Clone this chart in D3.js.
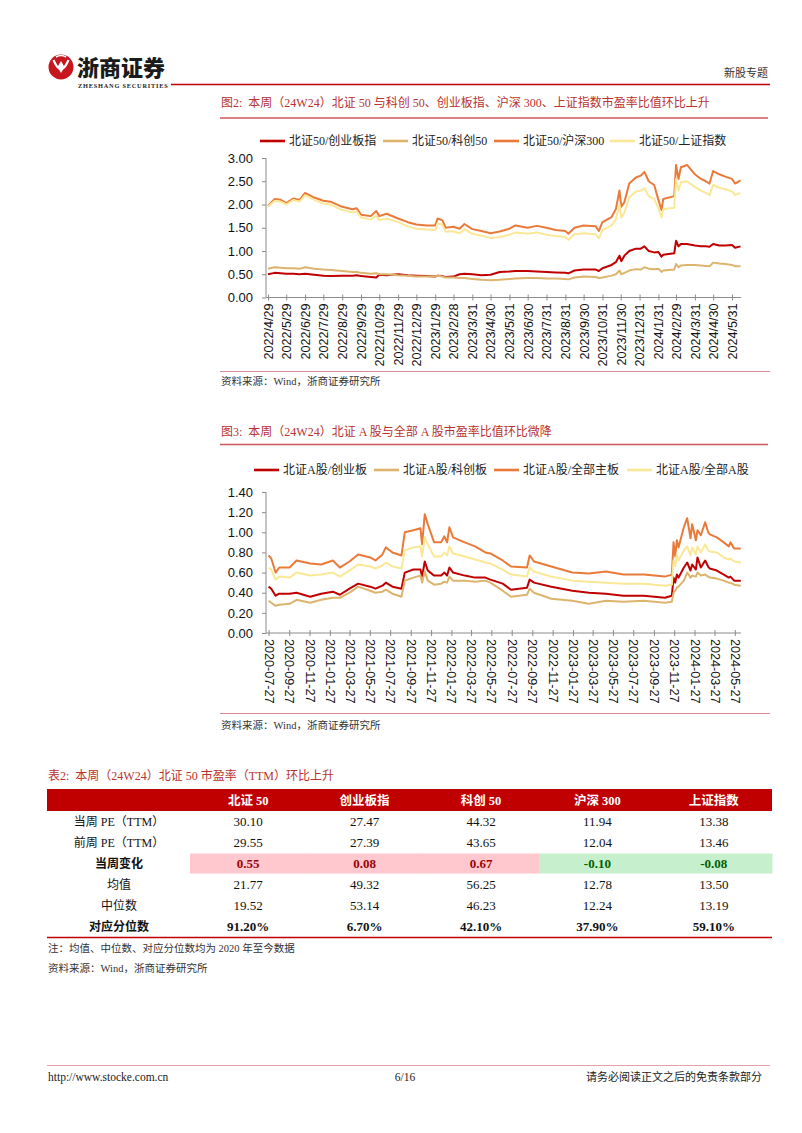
<!DOCTYPE html>
<html><head><meta charset="utf-8">
<script src="https://cdn.jsdelivr.net/npm/d3@7"></script>
<style>body{margin:0;background:#fff}svg{display:block}</style>
</head><body>
<svg id="page" width="802" height="1133"></svg>
<script>
// ---------- Figure 2 data ----------
const fig2Title = "图2:  本周（24W24）北证 50 与科创 50、创业板指、沪深 300、上证指数市盈率比值环比上升";
const fig2Legend = ["北证50/创业板指","北证50/科创50","北证50/沪深300","北证50/上证指数"];
const fig2Dates = ["2022-04-29","2022-05-10","2022-05-20","2022-05-29","2022-06-10","2022-06-20","2022-06-29","2022-07-14","2022-07-29","2022-08-10","2022-08-29","2022-09-15","2022-09-22","2022-09-29","2022-10-15","2022-10-24","2022-10-29","2022-11-10","2022-11-29","2022-12-15","2022-12-29","2023-01-15","2023-01-29","2023-02-02","2023-02-10","2023-02-15","2023-02-28","2023-03-10","2023-03-18","2023-03-31","2023-04-15","2023-04-30","2023-05-15","2023-05-31","2023-06-10","2023-06-30","2023-07-15","2023-07-31","2023-08-15","2023-08-31","2023-09-05","2023-09-15","2023-09-30","2023-10-20","2023-10-25","2023-10-31","2023-11-15","2023-11-22","2023-11-28","2023-12-01","2023-12-06","2023-12-14","2023-12-25","2024-01-02","2024-01-08","2024-01-15","2024-01-24","2024-01-31","2024-02-05","2024-02-08","2024-02-26","2024-02-29","2024-03-04","2024-03-08","2024-03-18","2024-03-31","2024-04-10","2024-04-18","2024-04-24","2024-04-30","2024-05-10","2024-05-20","2024-05-31","2024-06-05","2024-06-14"];
const fig2BzCyb = [0.50,0.53,0.52,0.51,0.51,0.50,0.51,0.49,0.47,0.46,0.47,0.47,0.48,0.46,0.44,0.43,0.49,0.48,0.50,0.48,0.47,0.46,0.45,0.47,0.46,0.44,0.45,0.50,0.51,0.50,0.48,0.49,0.55,0.56,0.57,0.57,0.56,0.55,0.54,0.53,0.52,0.58,0.60,0.60,0.57,0.63,0.70,0.76,0.90,0.78,0.90,1.00,1.05,1.05,1.10,1.00,0.97,0.98,0.88,0.92,0.95,1.22,1.10,1.15,1.15,1.12,1.10,1.10,1.09,1.15,1.12,1.12,1.13,1.07,1.10];
const fig2BzKc50 = [0.62,0.65,0.64,0.63,0.63,0.62,0.65,0.62,0.60,0.59,0.57,0.55,0.55,0.53,0.51,0.52,0.50,0.50,0.48,0.47,0.45,0.45,0.45,0.47,0.45,0.43,0.43,0.42,0.42,0.40,0.38,0.37,0.38,0.40,0.41,0.42,0.42,0.41,0.41,0.40,0.39,0.43,0.45,0.44,0.42,0.43,0.47,0.50,0.58,0.50,0.53,0.58,0.61,0.60,0.65,0.62,0.61,0.62,0.55,0.58,0.60,0.72,0.65,0.69,0.70,0.70,0.69,0.68,0.67,0.75,0.73,0.72,0.70,0.67,0.67];
const fig2BzHs300 = [1.97,2.12,2.10,2.03,2.13,2.10,2.25,2.15,2.08,2.06,1.95,1.90,1.92,1.78,1.75,1.86,1.75,1.80,1.70,1.62,1.57,1.55,1.55,1.70,1.66,1.50,1.52,1.48,1.58,1.47,1.43,1.38,1.42,1.48,1.55,1.50,1.54,1.50,1.45,1.43,1.37,1.50,1.55,1.53,1.43,1.62,1.73,1.90,2.30,1.95,2.05,2.45,2.58,2.62,2.70,2.50,2.42,2.10,1.88,2.12,2.18,2.85,2.55,2.80,2.85,2.65,2.55,2.50,2.45,2.72,2.65,2.60,2.55,2.45,2.52];
const fig2BzSh = [1.95,2.08,2.06,2.00,2.10,2.06,2.20,2.10,2.02,2.00,1.88,1.83,1.85,1.72,1.68,1.76,1.66,1.70,1.62,1.53,1.48,1.46,1.45,1.60,1.56,1.42,1.42,1.38,1.47,1.37,1.33,1.28,1.30,1.35,1.40,1.37,1.40,1.35,1.32,1.30,1.24,1.36,1.38,1.36,1.27,1.45,1.55,1.68,2.00,1.72,1.82,2.15,2.28,2.30,2.35,2.18,2.12,1.92,1.72,1.90,1.93,2.55,2.30,2.48,2.50,2.38,2.30,2.25,2.20,2.42,2.36,2.33,2.28,2.20,2.25];
const fig2XTicks = ["2022/4/29","2022/5/29","2022/6/29","2022/7/29","2022/8/29","2022/9/29","2022/10/29","2022/11/29","2022/12/29","2023/1/29","2023/2/28","2023/3/31","2023/4/30","2023/5/31","2023/6/30","2023/7/31","2023/8/31","2023/9/30","2023/10/31","2023/11/30","2023/12/31","2024/1/31","2024/2/29","2024/3/31","2024/4/30","2024/5/31"];
const fig2YTicks = [0,0.5,1,1.5,2,2.5,3];

// ---------- Figure 3 data ----------
const fig3Title = "图3:  本周（24W24）北证 A 股与全部 A 股市盈率比值环比微降";
const fig3Legend = ["北证A股/创业板","北证A股/科创板","北证A股/全部主板","北证A股/全部A股"];
const fig3Dates = ["2020-07-27","2020-08-04","2020-08-17","2020-08-28","2020-09-28","2020-10-19","2020-11-29","2021-01-01","2021-02-05","2021-02-26","2021-03-27","2021-04-22","2021-05-28","2021-06-13","2021-07-04","2021-07-14","2021-08-03","2021-08-30","2021-09-09","2021-10-05","2021-10-26","2021-10-31","2021-11-08","2021-11-17","2021-12-06","2021-12-27","2022-01-06","2022-01-14","2022-01-21","2022-02-01","2022-03-08","2022-04-08","2022-05-09","2022-05-24","2022-06-30","2022-07-25","2022-09-11","2022-09-19","2022-10-02","2022-11-23","2023-01-25","2023-03-16","2023-05-06","2023-06-27","2023-08-28","2023-10-30","2023-11-20","2023-11-25","2023-11-30","2023-12-05","2023-12-10","2023-12-26","2024-01-05","2024-01-15","2024-01-20","2024-01-31","2024-02-05","2024-02-15","2024-02-28","2024-03-08","2024-03-13","2024-04-03","2024-04-24","2024-05-09","2024-05-14","2024-05-25","2024-06-14"];
const fig3Cyb = [0.46,0.44,0.37,0.39,0.39,0.40,0.36,0.39,0.41,0.38,0.44,0.49,0.46,0.44,0.47,0.50,0.46,0.44,0.60,0.63,0.63,0.56,0.71,0.62,0.57,0.57,0.60,0.57,0.65,0.60,0.57,0.55,0.55,0.53,0.49,0.43,0.45,0.53,0.50,0.46,0.42,0.40,0.39,0.37,0.37,0.35,0.37,0.55,0.50,0.58,0.55,0.65,0.70,0.62,0.68,0.63,0.75,0.65,0.72,0.66,0.64,0.62,0.58,0.55,0.56,0.52,0.52];
const fig3Kcb = [0.32,0.30,0.27,0.28,0.29,0.33,0.30,0.33,0.35,0.35,0.40,0.46,0.42,0.40,0.41,0.43,0.39,0.36,0.52,0.55,0.57,0.50,0.61,0.52,0.48,0.49,0.51,0.50,0.56,0.52,0.52,0.51,0.52,0.50,0.42,0.36,0.38,0.44,0.40,0.34,0.32,0.29,0.32,0.31,0.32,0.30,0.31,0.40,0.42,0.45,0.46,0.52,0.60,0.55,0.57,0.56,0.60,0.57,0.58,0.56,0.55,0.54,0.52,0.50,0.50,0.48,0.47];
const fig3Main = [0.77,0.74,0.60,0.65,0.65,0.72,0.69,0.68,0.72,0.65,0.71,0.78,0.75,0.72,0.78,0.85,0.80,0.77,1.00,1.02,1.04,0.88,1.18,1.08,0.90,0.90,0.96,0.90,1.05,0.95,0.90,0.86,0.80,0.79,0.72,0.66,0.65,0.77,0.71,0.66,0.60,0.59,0.61,0.58,0.58,0.56,0.58,0.90,0.76,0.92,0.85,1.05,1.14,0.94,1.08,0.92,1.02,0.97,1.10,1.00,0.98,0.95,0.90,0.86,0.90,0.84,0.84];
const fig3AllA = [0.65,0.63,0.53,0.56,0.55,0.60,0.57,0.58,0.60,0.56,0.62,0.68,0.66,0.64,0.67,0.70,0.66,0.64,0.82,0.85,0.86,0.76,0.95,0.88,0.76,0.76,0.80,0.77,0.86,0.79,0.76,0.73,0.70,0.69,0.63,0.58,0.56,0.65,0.61,0.56,0.52,0.51,0.50,0.49,0.49,0.47,0.48,0.72,0.66,0.78,0.72,0.82,0.86,0.77,0.85,0.78,0.86,0.80,0.88,0.82,0.81,0.80,0.75,0.73,0.74,0.71,0.70];
const fig3XTicks = ["2020-07-27","2020-09-27","2020-11-27","2021-01-27","2021-03-27","2021-05-27","2021-07-27","2021-09-27","2021-11-27","2022-01-27","2022-03-27","2022-05-27","2022-07-27","2022-09-27","2022-11-27","2023-01-27","2023-03-27","2023-05-27","2023-07-27","2023-09-27","2023-11-27","2024-01-27","2024-03-27","2024-05-27"];
const fig3YTicks = [0,0.2,0.4,0.6,0.8,1.0,1.2,1.4];

// ---------- Table data ----------
const tableTitle = "表2:  本周（24W24）北证 50 市盈率（TTM）环比上升";
const tableCols = ["北证 50","创业板指","科创 50","沪深 300","上证指数"];
const rowLabels = ["当周 PE（TTM）","前周 PE（TTM）","当周变化","均值","中位数","对应分位数"];
const peThisWeek = [30.10,27.47,44.32,11.94,13.38];
const pePrevWeek = [29.55,27.39,43.65,12.04,13.46];
const weekChange = [0.55,0.08,0.67,-0.10,-0.08];
const meanPE = [21.77,49.32,56.25,12.78,13.50];
const medianPE = [19.52,53.14,46.23,12.24,13.19];
const percentileRank = [91.20,6.70,42.10,37.90,59.10];

const seriesColors = ["#C00000","#DDB46E","#EA7A3A","#FAE896"];
const TITLE_RED = "#B8322F";
const SERIF = "'Liberation Serif','Noto Sans CJK SC',serif";
const SANS = "'Liberation Sans',Arial,sans-serif";
const CJK = "'Noto Sans CJK SC',sans-serif";
const fmt2 = v => v.toFixed(2);

const svg = d3.select("#page");
svg.append("rect").attr("width",802).attr("height",1133).attr("fill","#fff");

// ---------- Header ----------
const hdr = svg.append("g");
hdr.append("circle").attr("cx",61).attr("cy",67).attr("r",12.5).attr("fill","#C8161E");
hdr.append("path").attr("d","M53.5,60 Q61,78 68.5,60").attr("fill","none").attr("stroke","#fff").attr("stroke-width",2.2);
hdr.append("path").attr("d","M61,61 L64.5,67 L61,73 L57.5,67 Z").attr("fill","#fff");
hdr.append("path").attr("d","M56,57 Q61,54 66,57").attr("fill","none").attr("stroke","#fff").attr("stroke-width",1.6);
hdr.append("text").attr("x",77).attr("y",76).text("浙商证券")
  .attr("font-family",CJK).attr("font-weight",900).attr("font-size",22).attr("fill","#1b1b1b");
hdr.append("text").attr("x",78).attr("y",88).text("ZHESHANG SECURITIES")
  .attr("font-family",SERIF).attr("font-weight",700).attr("font-size",6.3).attr("letter-spacing",0.8).attr("fill","#222");
hdr.append("line").attr("x1",171).attr("x2",770).attr("y1",84.5).attr("y2",84.5).attr("stroke","#C00000").attr("stroke-width",1.6);
hdr.append("text").attr("x",768).attr("y",77).attr("text-anchor","end").text("新股专题")
  .attr("font-family",CJK).attr("font-size",11).attr("fill","#333");

// ---------- helpers ----------
function figTitle(y, text, x1) {
  svg.append("text").attr("x",x1+1).attr("y",y).text(text)
    .attr("font-family",SERIF).attr("font-size",12).attr("fill",TITLE_RED).style("white-space","pre");
}
function hline(y, x1, x2, color, w) {
  svg.append("line").attr("x1",x1).attr("x2",x2).attr("y1",y).attr("y2",y).attr("stroke",color).attr("stroke-width",w);
}
function sourceText(y, x) {
  svg.append("text").attr("x",x).attr("y",y).text("资料来源：Wind，浙商证券研究所")
    .attr("font-family",SERIF).attr("font-size",10.5).attr("fill","#333");
}
function legend(y, items, pos) {
  items.forEach((t,i) => {
    svg.append("line").attr("x1",pos[i][0]).attr("x2",pos[i][0]+25).attr("y1",y).attr("y2",y)
      .attr("stroke",seriesColors[i]).attr("stroke-width",2.6);
    svg.append("text").attr("x",pos[i][0]+29).attr("y",y+4.3).text(t)
      .attr("font-family",SERIF).attr("font-size",12).attr("fill","#222");
  });
}
const parseISO = d3.timeParse("%Y-%m-%d");
function parseSlash(s){ const p=s.split("/").map(Number); return new Date(p[0],p[1]-1,p[2]); }

function lineChart(opt) {
  const g = svg.append("g");
  const x = d3.scaleTime().domain([opt.ticks[0], opt.ticks[opt.ticks.length-1]]).range([opt.x0, opt.x1]);
  const y = d3.scaleLinear().domain(opt.yDomain).range([opt.yBottom, opt.yTop]);
  const dates = opt.dates.map(parseISO);
  const ya = g.append("g").attr("transform",`translate(${opt.axisX},0)`)
    .call(d3.axisLeft(y).tickValues(opt.yTicks).tickFormat(fmt2).tickSize(4).tickPadding(9));
  ya.select(".domain").attr("stroke","#8c8c8c").attr("d",`M0,${opt.yBottom}V${opt.yTop}`);
  ya.selectAll(".tick line").attr("stroke","#8c8c8c");
  ya.selectAll("text").attr("font-family",SANS).attr("font-size",13).attr("fill","#111");
  const xa = g.append("g").attr("transform",`translate(0,${opt.yBottom})`)
    .call(d3.axisBottom(x).tickValues(opt.ticks).tickFormat((d,i)=>opt.tickLabels[i]).tickSize(3));
  xa.select(".domain").attr("stroke","#8c8c8c").attr("d",`M${opt.axisX},0H${opt.axisEnd}`);
  xa.selectAll(".tick line").attr("stroke","#8c8c8c").attr("y1",-3).attr("y2",3);
  const tx = xa.selectAll("text").attr("font-family",SANS).attr("font-size",12.6).attr("fill","#111")
    .attr("y",0).attr("dy","0.35em");
  if (opt.rot < 0) tx.attr("transform","rotate(-90)").attr("x",-6).style("text-anchor","end");
  else tx.attr("transform","rotate(90)").attr("x",6).style("text-anchor","start");
  const line = d3.line().x((d,i)=>x(dates[i])).y(d=>y(d)).curve(d3.curveLinear);
  opt.series.forEach((s,i) => {
    g.append("path").datum(s).attr("d",line).attr("fill","none")
      .attr("stroke",seriesColors[i]).attr("stroke-width",2).attr("stroke-linejoin","round");
  });
}

// ---------- Figure 2 ----------
figTitle(107, fig2Title, 220);
hline(118, 220, 768, "#D2555C", 1.5);
legend(141, fig2Legend, [[260],[383],[494],[610]]);
lineChart({
  dates: fig2Dates, series: [fig2BzCyb, fig2BzKc50, fig2BzHs300, fig2BzSh],
  ticks: fig2XTicks.map(parseSlash), tickLabels: fig2XTicks,
  x0: 268, x1: 732, axisX: 266, axisEnd: 741,
  yDomain: [0,3], yTop: 158, yBottom: 297.5, yTicks: fig2YTicks, rot: -90
});
hline(371.5, 220, 770, "#D98A90", 1);
sourceText(385, 221);

// ---------- Figure 3 ----------
figTitle(436, fig3Title, 220);
hline(444.5, 220, 768, "#D2555C", 1.5);
legend(470, fig3Legend, [[254],[374],[494],[627]]);
lineChart({
  dates: fig3Dates, series: [fig3Cyb, fig3Kcb, fig3Main, fig3AllA],
  ticks: fig3XTicks.map(parseISO), tickLabels: fig3XTicks,
  x0: 268.6, x1: 734.8, axisX: 266, axisEnd: 741,
  yDomain: [0,1.4], yTop: 492, yBottom: 633, yTicks: fig3YTicks, rot: 90
});
hline(713.5, 220, 770, "#D98A90", 1);
sourceText(729, 221);

// ---------- Table ----------
svg.append("text").attr("x",48).attr("y",780).text(tableTitle)
  .attr("font-family",SERIF).attr("font-size",12).attr("fill",TITLE_RED).style("white-space","pre");
const colX = d3.scaleBand().domain(d3.range(5)).range([190,772]);
const colC = i => colX(i) + colX.bandwidth()/2;
const rowH = 21, headTop = 789;
svg.append("rect").attr("x",47).attr("y",headTop).attr("width",725).attr("height",22).attr("fill","#C00000");
tableCols.forEach((c,i) => {
  svg.append("text").attr("x",colC(i)).attr("y",headTop+15.5).attr("text-anchor","middle").text(c)
    .attr("font-family",SERIF).attr("font-weight",700).attr("font-size",12.5).attr("fill","#fff");
});
const rows = [
  {vals: peThisWeek, fmt: fmt2, bold:false},
  {vals: pePrevWeek, fmt: fmt2, bold:false},
  {vals: weekChange, fmt: fmt2, bold:true, change:true},
  {vals: meanPE, fmt: fmt2, bold:false},
  {vals: medianPE, fmt: fmt2, bold:false},
  {vals: percentileRank, fmt: v => fmt2(v)+"%", bold:true}
];
rows.forEach((r,ri) => {
  const cy = headTop + 22 + rowH*ri + rowH/2;
  if (r.change) {
    r.vals.forEach((v,i) => {
      svg.append("rect").attr("x",colX(i)).attr("y",cy-rowH/2+0.5).attr("width",colX.bandwidth()+0.5).attr("height",rowH-1)
        .attr("fill", v >= 0 ? "#FFC7CE" : "#C6EFCE");
    });
  }
  svg.append("text").attr("x",119).attr("y",cy+4.5).attr("text-anchor","middle").text(rowLabels[ri])
    .attr("font-family",SERIF).attr("font-size",12).attr("font-weight",r.bold?700:400).attr("fill","#111");
  r.vals.forEach((v,i) => {
    svg.append("text").attr("x",colC(i)).attr("y",cy+4.5).attr("text-anchor","middle").text(r.fmt(v))
      .attr("font-family",SERIF).attr("font-size",13).attr("font-weight",r.bold?700:400)
      .attr("fill", r.change ? (v>=0 ? "#9C0006" : "#006100") : "#111");
  });
});
hline(937.5, 47, 772, "#C00000", 1.5);
svg.append("text").attr("x",48).attr("y",952).text("注：均值、中位数、对应分位数均为 2020 年至今数据")
  .attr("font-family",SERIF).attr("font-size",10.5).attr("fill","#333").style("white-space","pre");
sourceText(972, 48);

// ---------- Footer ----------
hline(1065.5, 47, 770, "#E3A1A8", 1.2);
svg.append("text").attr("x",48).attr("y",1081).text("http://www.stocke.com.cn")
  .attr("font-family",SERIF).attr("font-size",11.5).attr("fill","#222");
svg.append("text").attr("x",405).attr("y",1081).attr("text-anchor","middle").text("6/16")
  .attr("font-family",SERIF).attr("font-size",11.5).attr("fill","#222");
svg.append("text").attr("x",762).attr("y",1081).attr("text-anchor","end").text("请务必阅读正文之后的免责条款部分")
  .attr("font-family",SERIF).attr("font-size",11).attr("fill","#222");
</script>
</body></html>
